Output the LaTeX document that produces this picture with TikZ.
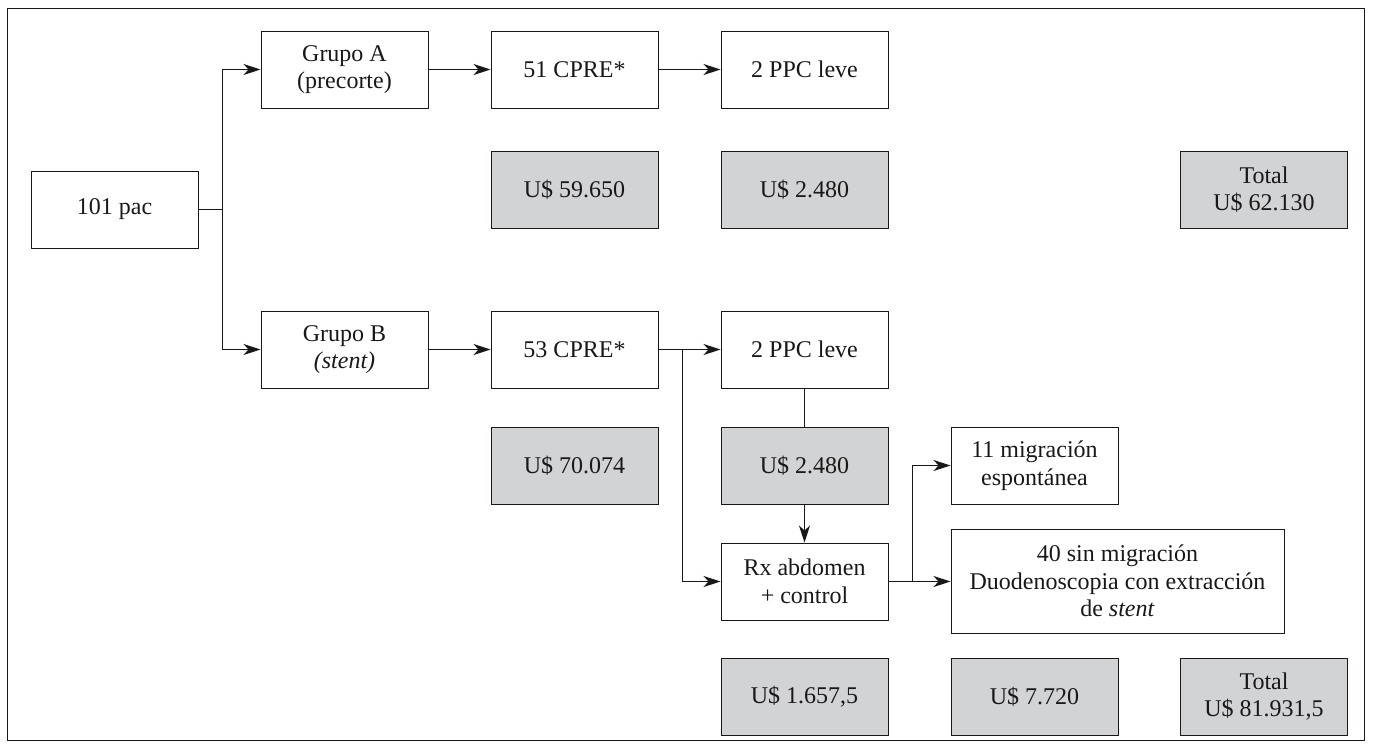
\documentclass[tikz,border=0pt]{standalone}
\usepackage{fontspec}
\setmainfont{Liberation Serif}
\usetikzlibrary{arrows.meta}
\definecolor{ink}{HTML}{1A1718}
\definecolor{boxfill}{HTML}{D1D3D4}
\tikzset{
  box/.style={draw=ink, line width=1pt, minimum width=167pt, minimum height=77pt,
    inner sep=0pt, align=center, text=ink, font=\fontsize{24}{27.5}\selectfont},
  cost/.style={box, fill=boxfill},
  conn/.style={draw=ink, line width=1pt},
  arr/.style={conn, -{Stealth[length=17pt,width=11pt,inset=5pt]}}
}
\begin{document}
\begin{tikzpicture}[x=1pt,y=-1pt]
\useasboundingbox (0,0) rectangle (1373,748);
\draw[draw=ink, line width=1.4pt] (7.5,8.5) rectangle (1364.5,740.5);
% nodes
\node[box] (pac) at (114.5,209.5) {101 pac};
\node[box] (ga) at (344.5,69.5) {Grupo A\\(precorte)};
\node[box] (cprea) at (574.5,69.5) {51 CPRE*};
\node[box] (ppca) at (804.5,69.5) {2 PPC leve};
\node[cost] (ca1) at (574.5,189.5) {U\$ 59.650};
\node[cost] (ca2) at (804.5,189.5) {U\$ 2.480};
\node[cost] (ta) at (1264,189.5) {Total\\U\$ 62.130};
\node[box] (gb) at (344.5,349.5) {Grupo B\\\textit{(stent)}};
\node[box] (cpreb) at (574.5,349.5) {53 CPRE*};
\node[box] (ppcb) at (804.5,349.5) {2 PPC leve};
\node[cost] (cb1) at (574.5,465.5) {U\$ 70.074};
\node[cost] (cb2) at (804.5,465.5) {U\$ 2.480};
\node[box] (mig) at (1034.5,465.5) {11 migración\\espontánea};
\node[box] (rx) at (804.5,581.5) {Rx abdomen\\+ control};
\node[box, minimum width=333pt, minimum height=104pt] (sin) at (1117.5,581) {40 sin migración\\Duodenoscopia con extracción\\de \textit{stent}};
\node[cost] (cb3) at (804.5,696.5) {U\$ 1.657,5};
\node[cost] (cb4) at (1034.5,696.5) {U\$ 7.720};
\node[cost] (tb) at (1264,696.5) {Total\\U\$ 81.931,5};
% split points
\coordinate (s1) at (222,209.5);
\coordinate (s2) at (682,349.5);
\coordinate (s3) at (912,581.5);
% connectors
\draw[conn] (pac.east) -- (s1);
\draw[arr] (s1) |- (ga.west);
\draw[arr] (s1) |- (gb.west);
\draw[arr] (ga) -- (cprea);
\draw[arr] (cprea) -- (ppca);
\draw[arr] (gb) -- (cpreb);
\draw[arr] (cpreb) -- (ppcb);
\draw[arr] (s2) |- (rx.west);
\draw[conn] (ppcb) -- (cb2);
\draw[arr] (cb2) -- (rx);
\draw[arr] (rx) -- (sin.west |- rx.east);
\draw[arr] (s3) |- (mig.west);
\end{tikzpicture}
\end{document}
